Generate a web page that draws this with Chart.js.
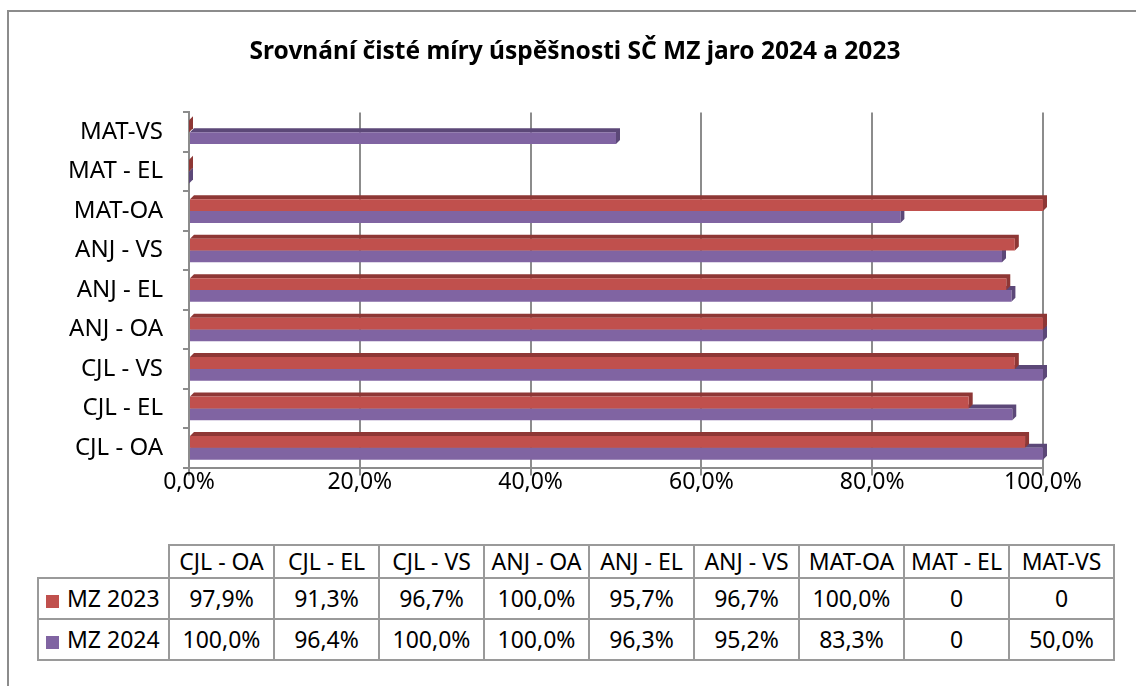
<!DOCTYPE html>
<html>
<head>
<meta charset="utf-8">
<script src="https://cdn.jsdelivr.net/npm/chart.js@4"></script>
<style>
  html, body { margin: 0; padding: 0; background: #fff; overflow: hidden; width: 1136px; height: 686px; }
  #frame { position: absolute; left: 7px; top: 10px; width: 1300px; height: 800px;
           border-left: 2px solid #8c8c8c; border-top: 2px solid #8c8c8c; }
  #chart { position: absolute; left: 0; top: 0; }
  #dt { position: absolute; left: 37px; top: 544px; border-collapse: collapse; table-layout: fixed;
        font-family: "Noto Sans", sans-serif; font-size: 23px; color: #000; }
  #dt td { border: 2px solid #9a9a9a; text-align: center; padding: 0; white-space: nowrap; overflow: hidden; }
  #dt tr.head td { height: 31px; line-height: 31px; }
  #dt tr.body td { height: 39px; line-height: 39px; }
  #dt td.corner { border-top: none; border-left: none; }
  #dt td.leg { text-align: left; padding-left: 7px; }
  #dt .sw { display: inline-block; width: 13px; height: 13px; margin-right: 8px; vertical-align: -1px; }
</style>
</head>
<body>
<div id="frame"></div>
<canvas id="chart" width="1136" height="502"></canvas>
<table id="dt"></table>
<script>
// data (percent)
const categories = ['CJL - OA', 'CJL - EL', 'CJL - VS', 'ANJ - OA', 'ANJ - EL', 'ANJ - VS', 'MAT-OA', 'MAT - EL', 'MAT-VS'];
const seriesNames = ['MZ 2023', 'MZ 2024'];
const mz2023 = [97.9, 91.3, 96.7, 100.0, 95.7, 96.7, 100.0, 0, 0];
const mz2024 = [100.0, 96.4, 100.0, 100.0, 96.3, 95.2, 83.3, 0, 50.0];
const xTicks = [0, 20, 40, 60, 80, 100];

const FONT = '"Noto Sans", sans-serif';
const colors = ['#C0504D', '#8064A2'];
const sideColors = ['#8E3735', '#5C4878'];
const GRID = '#8c8c8c';

function pct(v) {
  return v.toFixed(1).replace('.', ',') + '%';
}
function cellText(v) {
  return v === 0 ? '0' : pct(v);
}

// fake 3D: top strip and end cap for every bar, painted before the bars
const depth = { dx: 4, dy: 4 };
const bar3d = {
  id: 'bar3d',
  beforeDatasetsDraw(chart) {
    const ctx = chart.ctx;
    ctx.save();
    for (let di = chart.data.datasets.length - 1; di >= 0; di--) {
      const meta = chart.getDatasetMeta(di);
      meta.data.forEach(el => {
        const left = Math.min(el.base, el.x);
        const right = Math.max(el.base, el.x);
        const top = el.y - el.height / 2;
        const bottom = el.y + el.height / 2;
        ctx.fillStyle = sideColors[di];
        ctx.beginPath();
        ctx.moveTo(left, top);
        ctx.lineTo(left + depth.dx, top - depth.dy);
        ctx.lineTo(right + depth.dx, top - depth.dy);
        ctx.lineTo(right + depth.dx, bottom - depth.dy);
        ctx.lineTo(right, bottom);
        ctx.lineTo(right, top);
        ctx.closePath();
        ctx.fill();
      });
    }
    ctx.restore();
  }
};

new Chart(document.getElementById('chart'), {
  type: 'bar',
  data: {
    labels: categories,
    datasets: [
      { label: seriesNames[0], data: mz2023, backgroundColor: colors[0], categoryPercentage: 0.6, barPercentage: 1 },
      { label: seriesNames[1], data: mz2024, backgroundColor: colors[1], categoryPercentage: 0.6, barPercentage: 1 }
    ]
  },
  plugins: [bar3d],
  options: {
    indexAxis: 'y',
    responsive: false,
    animation: false,
    layout: { padding: { left: 14, right: 0, top: 0, bottom: 0 } },
    plugins: {
      legend: { display: false },
      tooltip: { enabled: false },
      title: {
        display: true,
        text: 'Srovnání čisté míry úspěšnosti SČ MZ jaro 2024 a 2023',
        color: '#000',
        font: { family: FONT, size: 24.5, weight: 'bold', lineHeight: 1.2 },
        padding: { top: 37, bottom: 46 }
      }
    },
    scales: {
      y: {
        type: 'category',
        reverse: true,
        afterFit: s => { s.width = 175; },
        grid: { drawOnChartArea: false, drawTicks: true, tickLength: 6, color: GRID, lineWidth: 2, offset: true },
        border: { display: true, color: GRID, width: 2 },
        ticks: { color: '#000', font: { family: FONT, size: 24 }, padding: 20 }
      },
      // empty right-hand strip so the plot ends at 100 % like the original
      yRight: {
        type: 'linear',
        position: 'right',
        afterFit: s => { s.width = 93; },
        grid: { display: false },
        border: { display: false },
        ticks: { display: false }
      },
      x: {
        min: 0,
        max: 100,
        afterFit: s => { s.height = 32; },
        afterBuildTicks: s => { s.ticks = xTicks.map(v => ({ value: v })); },
        grid: { color: GRID, lineWidth: 2, tickLength: 8 },
        border: { display: true, color: GRID, width: 2 },
        ticks: {
          color: '#000',
          font: { family: FONT, size: 23 },
          padding: -7,
          maxRotation: 0,
          callback: v => pct(v)
        }
      }
    }
  }
});

// data table under the chart
const tbl = document.getElementById('dt');
const colW = [131].concat(categories.map(() => 105));
const cg = document.createElement('colgroup');
colW.forEach(w => {
  const c = document.createElement('col');
  c.style.width = w + 'px';
  cg.appendChild(c);
});
tbl.appendChild(cg);
const head = tbl.insertRow();
head.className = 'head';
head.insertCell().className = 'corner';
categories.forEach(c => { head.insertCell().textContent = c; });
[mz2023, mz2024].forEach((vals, i) => {
  const r = tbl.insertRow();
  r.className = 'body';
  const lc = r.insertCell();
  lc.className = 'leg';
  const sw = document.createElement('span');
  sw.className = 'sw';
  sw.style.background = colors[i];
  lc.appendChild(sw);
  lc.appendChild(document.createTextNode(seriesNames[i]));
  vals.forEach(v => { r.insertCell().textContent = cellText(v); });
});
</script>
</body>
</html>
